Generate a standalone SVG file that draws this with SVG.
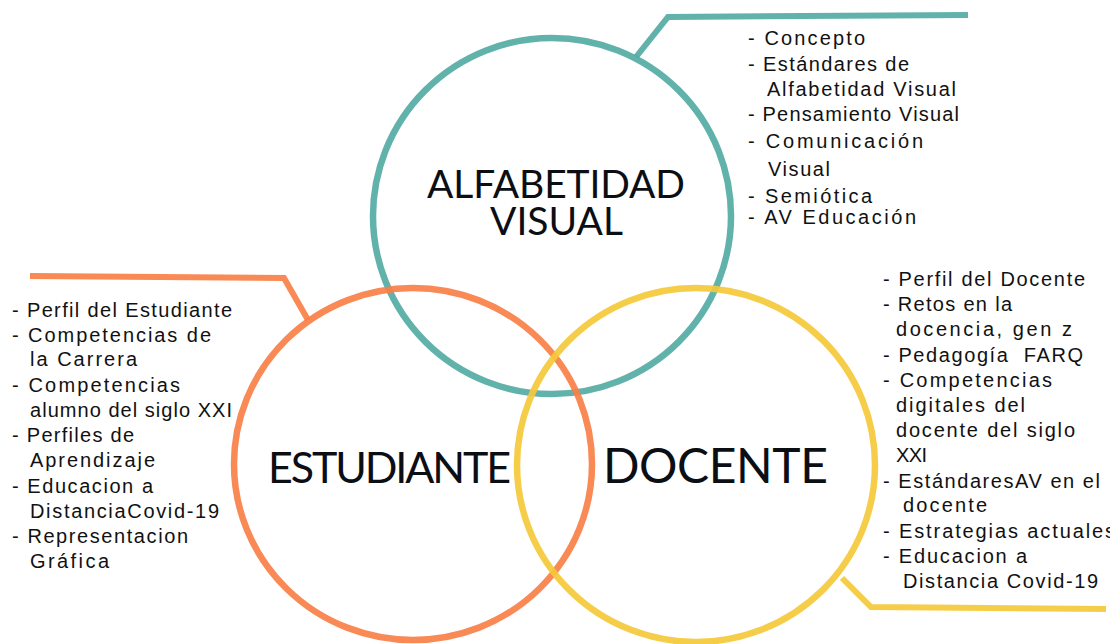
<svg xmlns="http://www.w3.org/2000/svg" width="1110" height="644" viewBox="0 0 1110 644">
<style>
.ring{fill:none;stroke-width:6.5;stroke-opacity:0.92}
.lead{fill:none;stroke-width:6;stroke-opacity:0.92;stroke-linejoin:miter}
.teal{stroke:#55ABA5}
.orange{stroke:#F97F47}
.yellow{stroke:#F5C93A}
.title{font-family:Lato,"Noto Sans",sans-serif;fill:#0b0f14;font-weight:400}
.item{font-family:"Liberation Sans",Arial,sans-serif;font-size:20px;fill:#111}
</style>
<rect width="1110" height="644" fill="#fff"/>
<g id="connectors">
<polyline class="lead teal" points="636,57 668,17 968,15"/>
<polyline class="lead orange" points="30,276 284,278 308,320"/>
<polyline class="lead yellow" points="842,578 871,607 1106,609"/>
</g>
<g id="alfabetidad">
<ellipse class="ring teal" cx="552" cy="216" rx="179" ry="178"/>
<text class="title" font-size="39" x="427" y="198" textLength="258">ALFABETIDAD</text>
<text class="title" font-size="39" x="490" y="235" textLength="133">VISUAL</text>
<g class="item">
<text x="748" y="45" textLength="117">- Concepto</text>
<text x="748" y="71" textLength="161">- Estándares de</text>
<text x="767" y="96" textLength="189">Alfabetidad Visual</text>
<text x="748" y="121" textLength="211">- Pensamiento Visual</text>
<text x="748" y="148" textLength="175">- Comunicación</text>
<text x="768" y="176" textLength="62">Visual</text>
<text x="748" y="203" textLength="124">- Semiótica</text>
<text x="748" y="224" textLength="168">- AV Educación</text>
</g>
</g>
<g id="estudiante">
<ellipse class="ring orange" cx="413" cy="464" rx="179" ry="176"/>
<text class="title" font-size="43" x="268" y="483" textLength="243">ESTUDIANTE</text>
<g class="item">
<text x="12" y="317" textLength="220">- Perfil del Estudiante</text>
<text x="12" y="342" textLength="199">- Competencias de</text>
<text x="30" y="366" textLength="107">la Carrera</text>
<text x="12" y="392" textLength="168">- Competencias</text>
<text x="30" y="417" textLength="202">alumno del siglo XXI</text>
<text x="12" y="442" textLength="122">- Perfiles de</text>
<text x="30" y="467" textLength="125">Aprendizaje</text>
<text x="12" y="493" textLength="141">- Educacion a</text>
<text x="30" y="518" textLength="189">DistanciaCovid-19</text>
<text x="12" y="543" textLength="176">- Representacion</text>
<text x="30" y="568" textLength="79">Gráfica</text>
</g>
</g>
<g id="docente">
<ellipse class="ring yellow" cx="696" cy="465" rx="179" ry="177"/>
<text class="title" font-size="48" x="603" y="483" textLength="225">DOCENTE</text>
<g class="item">
<text x="883" y="286" textLength="202">- Perfil del Docente</text>
<text x="883" y="311" textLength="129">- Retos en la</text>
<text x="896" y="336" textLength="176">docencia, gen z</text>
<text x="883" y="362" textLength="200">- Pedagogía&#160; FARQ</text>
<text x="883" y="387" textLength="169">- Competencias</text>
<text x="896" y="412" textLength="129">digitales del</text>
<text x="896" y="437" textLength="179">docente del siglo</text>
<text x="896" y="462" textLength="31">XXI</text>
<text x="883" y="488" textLength="217">- EstándaresAV en el</text>
<text x="903" y="512" textLength="84">docente</text>
<text x="883" y="538" textLength="232">- Estrategias actuales</text>
<text x="883" y="563" textLength="144">- Educacion a</text>
<text x="903" y="588" textLength="195">Distancia Covid-19</text>
</g>
</g>
</svg>
